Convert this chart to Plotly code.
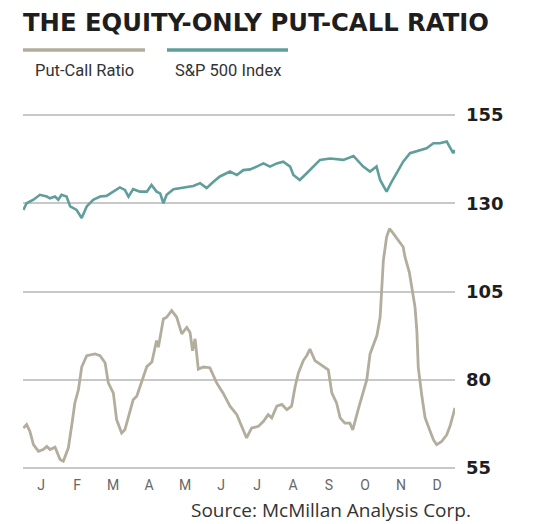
import plotly.graph_objects as go

# month positions (0 = start of Jan, 12 = end of Dec)
months = ["J", "F", "M", "A", "M", "J", "J", "A", "S", "O", "N", "D"]
month_pos = [0.5, 1.5, 2.5, 3.5, 4.5, 5.5, 6.5, 7.5, 8.5, 9.5, 10.5, 11.5]
y_ticks = [55, 80, 105, 130, 155]

# S&P 500 Index (scaled)
sp_x = [0.01, 0.10, 0.29, 0.47, 0.66, 0.75, 0.89, 0.98, 1.07, 1.21, 1.31, 1.49, 1.63,
        1.77, 1.95, 2.14, 2.32, 2.51, 2.69, 2.83, 2.93, 3.06, 3.25, 3.44, 3.57, 3.71,
        3.81, 3.90, 3.99, 4.18, 4.36, 4.55, 4.73, 4.92, 5.10, 5.29, 5.47, 5.75, 5.94,
        6.12, 6.31, 6.49, 6.68, 6.86, 7.05, 7.23, 7.42, 7.51, 7.69, 7.88, 8.06, 8.25,
        8.53, 8.71, 8.90, 9.18, 9.31, 9.45, 9.64, 9.82, 9.92, 10.10, 10.24, 10.38,
        10.56, 10.75, 11.03, 11.21, 11.40, 11.58, 11.77, 11.86, 11.95, 12.00]
sp_y = [128.1, 130.0, 131.0, 132.4, 131.9, 131.4, 131.9, 131.0, 132.4, 131.9, 129.1,
        128.1, 125.8, 129.1, 131.0, 131.9, 132.1, 133.3, 134.5, 133.8, 131.9, 134.0,
        133.3, 133.3, 135.2, 133.3, 132.8, 130.0, 132.4, 134.0, 134.3, 134.5, 134.9,
        135.7, 134.3, 136.1, 137.6, 139.0, 138.0, 139.4, 139.6, 140.4, 141.3, 140.4,
        141.3, 141.8, 140.4, 138.0, 136.6, 138.5, 140.4, 142.3, 142.7, 142.5, 142.3,
        143.4, 141.8, 140.4, 139.0, 140.4, 136.6, 133.3, 136.1, 138.5, 141.8, 144.2,
        145.1, 145.6, 147.0, 147.0, 147.5, 146.0, 144.2, 145.1]

# equity-only put-call ratio
pc_x = [0.01, 0.10, 0.19, 0.29, 0.43, 0.56, 0.66, 0.75, 0.89, 1.03, 1.12, 1.26, 1.35,
        1.44, 1.54, 1.63, 1.77, 2.00, 2.14, 2.28, 2.37, 2.51, 2.60, 2.74, 2.83, 2.93,
        3.06, 3.16, 3.25, 3.44, 3.58, 3.71, 3.76, 3.90, 3.99, 4.13, 4.27, 4.41, 4.55,
        4.64, 4.71, 4.78, 4.87, 5.01, 5.19, 5.38, 5.56, 5.75, 5.94, 6.08, 6.21, 6.35,
        6.54, 6.68, 6.81, 6.91, 7.05, 7.19, 7.33, 7.46, 7.56, 7.65, 7.79, 7.88, 7.97,
        8.11, 8.25, 8.48, 8.58, 8.71, 8.81, 8.94, 9.08, 9.16, 9.31, 9.45, 9.55, 9.64,
        9.83, 9.92, 9.96, 10.01, 10.10, 10.18, 10.29, 10.43, 10.56, 10.61, 10.73,
        10.80, 10.89, 10.94, 10.98, 11.08, 11.17, 11.31, 11.40, 11.49, 11.63, 11.77,
        11.86, 12.00]
pc_y = [66.3, 67.3, 65.4, 61.6, 59.7, 60.2, 61.1, 60.2, 60.9, 57.4, 56.9, 60.7, 66.8,
        73.4, 77.2, 83.6, 86.8, 87.3, 86.8, 84.8, 79.1, 76.2, 68.7, 64.9, 65.8, 69.6,
        74.3, 75.3, 78.1, 83.7, 85.0, 91.1, 89.2, 97.2, 97.7, 99.6, 97.7, 93.0, 94.8,
        93.4, 88.2, 91.6, 83.0, 83.6, 83.4, 79.1, 76.2, 72.5, 70.1, 66.8, 63.5, 66.3,
        66.8, 68.2, 70.1, 69.2, 72.5, 73.0, 71.5, 72.5, 78.1, 81.9, 85.5, 86.8, 88.7,
        85.4, 84.5, 82.8, 76.2, 73.4, 69.2, 67.7, 67.7, 65.8, 71.5, 76.2, 80.0, 87.3,
        92.5, 97.7, 106.2, 113.8, 120.4, 122.8, 121.4, 119.5, 117.6, 114.8, 110.5,
        106.2, 100.5, 93.9, 83.5, 75.3, 69.2, 65.4, 63.0, 61.6, 62.5, 64.4, 66.8, 72.0]

tan = "#b3ad9d"
teal = "#5f9e9b"

fig = go.Figure()
fig.add_trace(go.Scatter(x=pc_x, y=pc_y, mode="lines", name="Put-Call Ratio",
                         line=dict(color=tan, width=2.8)))
fig.add_trace(go.Scatter(x=sp_x, y=sp_y, mode="lines", name="S&P 500 Index",
                         line=dict(color=teal, width=2.6)))

# the page has an 8px body margin, so the figure is sized to the visible area
fig.update_layout(
    width=532, height=516,
    margin=dict(l=15, r=85, t=100, b=49),
    plot_bgcolor="white", paper_bgcolor="white",
    showlegend=False,
    font=dict(family="Open Sans", color="#222"),
)
fig.update_xaxes(range=[0, 12], tickvals=month_pos, ticktext=months,
                 showgrid=False, zeroline=False, ticks="",
                 tickfont=dict(family="Liberation Sans Narrow, Roboto", size=14, color="#666"))
fig.update_yaxes(range=[53, 157], tickvals=y_ticks, side="right",
                 showgrid=True, gridcolor="#c8c8c8", gridwidth=2, zeroline=False,
                 ticklabelstandoff=10,
                 tickfont=dict(family="DejaVu Sans", size=18, color="#1e1e1e", weight="bold"))

# title
fig.add_annotation(text="<b>THE EQUITY-ONLY PUT-CALL RATIO</b>", xref="paper", yref="paper",
                   x=-0.004, y=1.0, yshift=86, xanchor="left", yanchor="middle", showarrow=False,
                   font=dict(family="DejaVu Sans", size=24.3, color="#1e1e1e"))

# legend drawn as swatches above labels
plot_h = 516 - 100 - 49
legend_items = [("Put-Call Ratio", tan, 23, 145), ("S&P 500 Index", teal, 167, 288)]
for label, color, x0, x1 in legend_items:
    ly = 1 + (100 - 42) / plot_h
    fig.add_shape(type="line", xref="x domain", yref="paper",
                  x0=(x0 - 23) / 432, x1=(x1 - 23) / 432, y0=ly, y1=ly,
                  line=dict(color=color, width=3.5))
    fig.add_annotation(text=label, xref="x domain", yref="paper",
                       x=((x0 + x1) / 2 - 23) / 432, y=1.0, yshift=38,
                       xanchor="center", yanchor="middle", showarrow=False,
                       font=dict(family="Roboto", size=16.5, color="#333"))

# source
fig.add_annotation(text="Source: McMillan Analysis Corp.", xref="x domain", yref="paper",
                   x=(473 - 23) / 432, y=0, yshift=-35, xanchor="right", yanchor="middle",
                   showarrow=False, font=dict(family="Open Sans", size=19, color="#333"))

fig.write_html("out.html")
